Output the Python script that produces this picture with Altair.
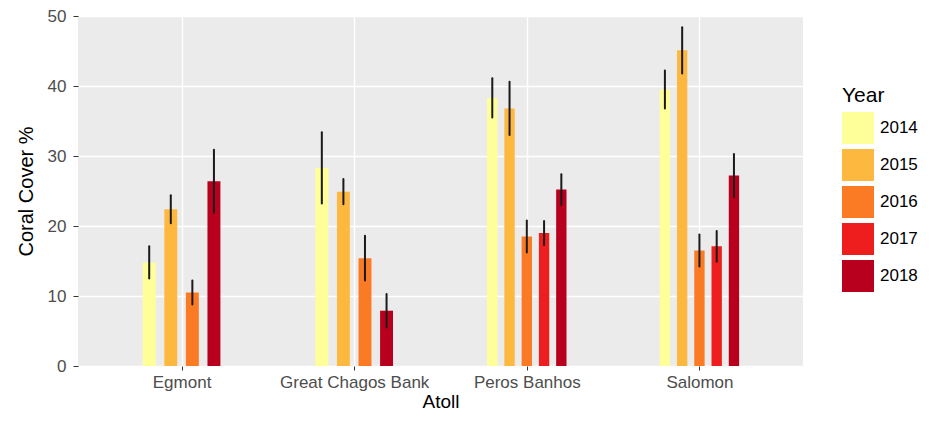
import json
import altair as alt
import pandas as pd

atolls = ["Egmont", "Great Chagos Bank", "Peros Banhos", "Salomon"]
years = ["2014", "2015", "2016", "2017", "2018"]
colors = ["#FFFF99", "#FDB840", "#FB7A24", "#EE1E1E", "#B8001E"]

row_atoll = (["Egmont"] * 4 + ["Great Chagos Bank"] * 4
             + ["Peros Banhos"] * 5 + ["Salomon"] * 5)
row_year = ["2014", "2015", "2016", "2018",
            "2014", "2015", "2016", "2018",
            "2014", "2015", "2016", "2017", "2018",
            "2014", "2015", "2016", "2017", "2018"]
cover = [14.8, 22.4, 10.5, 26.4,
         28.3, 24.9, 15.4, 7.9,
         38.3, 36.8, 18.5, 19.0, 25.2,
         39.5, 45.1, 16.5, 17.1, 27.2]
err = [2.3, 2.0, 1.7, 4.5,
       5.1, 1.8, 3.2, 2.4,
       2.8, 3.8, 2.3, 1.7, 2.2,
       2.7, 3.3, 2.3, 2.2, 3.1]

df = pd.DataFrame({"Atoll": row_atoll, "Year": row_year, "Cover": cover, "Err": err})
df["AtollIndex"] = [atolls.index(a) + 1 for a in row_atoll]

FONT = "Liberation Sans"

base = alt.Chart(df).transform_window(
    slot="row_number()", groupby=["Atoll"], sort=[alt.SortField("Year")]
).transform_joinaggregate(
    n="count()", groupby=["Atoll"]
).transform_calculate(
    center="datum.AtollIndex + (datum.slot - (datum.n + 1) / 2) * 0.5 / datum.n",
    left="datum.center - 0.3 * 0.5 / datum.n",
    right="datum.center + 0.3 * 0.5 / datum.n",
    lo="datum.Cover - datum.Err",
    hi="datum.Cover + datum.Err",
)

label_expr = json.dumps(atolls) + "[datum.value - 1]"

xscale = alt.Scale(domain=[0.4, 4.6], nice=False, zero=False)
yscale = alt.Scale(domain=[0, 50], nice=False)

is_major = "datum.value % 10 === 0"

bars = base.mark_bar().encode(
    x=alt.X("left:Q", scale=xscale,
            axis=alt.Axis(values=[1, 2, 3, 4], labelExpr=label_expr, title="Atoll",
                          grid=True, gridColor="white", gridWidth=1.4,
                          tickSize=4, labelPadding=4, labelFontSize=17,
                          titleFontSize=19, titlePadding=2, labelOverlap=False)),
    x2="right:Q",
    y=alt.Y("Cover:Q", scale=yscale,
            axis=alt.Axis(values=list(range(0, 55, 5)), title="Coral Cover %",
                          labelExpr=f"{is_major} ? datum.label : ''",
                          gridColor="white",
                          gridWidth={"condition": {"test": is_major, "value": 1.4}, "value": 0.6},
                          tickColor={"condition": {"test": is_major, "value": "#333333"}, "value": "transparent"},
                          tickSize=5, labelPadding=7, labelFontSize=17,
                          titleFontSize=20, titlePadding=11)),
    y2=alt.datum(0),
    color=alt.Color("Year:N", scale=alt.Scale(domain=years, range=colors),
                    legend=alt.Legend(title="Year", orient="none", legendX=764, legendY=69,
                                      titleFontSize=21, titleFontWeight="normal",
                                      titleColor="black", titlePadding=6,
                                      labelFontSize=17, labelColor="black", labelOffset=6,
                                      symbolType="square", symbolSize=1024,
                                      symbolStrokeWidth=0, rowPadding=5)),
)

errbars = base.mark_rule(color="#1A1A1A", strokeWidth=2, strokeCap="round").encode(
    x=alt.X("center:Q", scale=xscale),
    y=alt.Y("lo:Q", scale=yscale),
    y2="hi:Q",
)

chart = alt.layer(bars, errbars).properties(
    width=725, height=350,
    autosize=alt.AutoSizeParams(type="none"),
    padding={"left": 70, "top": 8, "right": 125, "bottom": 48},
).configure_view(
    fill="#EBEBEB", strokeWidth=0
).configure_axis(
    domain=False, labelColor="#4D4D4D", titleColor="black",
    labelFont=FONT, titleFont=FONT, titleFontWeight="normal", tickColor="#333333",
).configure_legend(
    labelFont=FONT, titleFont=FONT,
)

chart.save("out.html", embed_options={"renderer": "svg", "actions": False})
